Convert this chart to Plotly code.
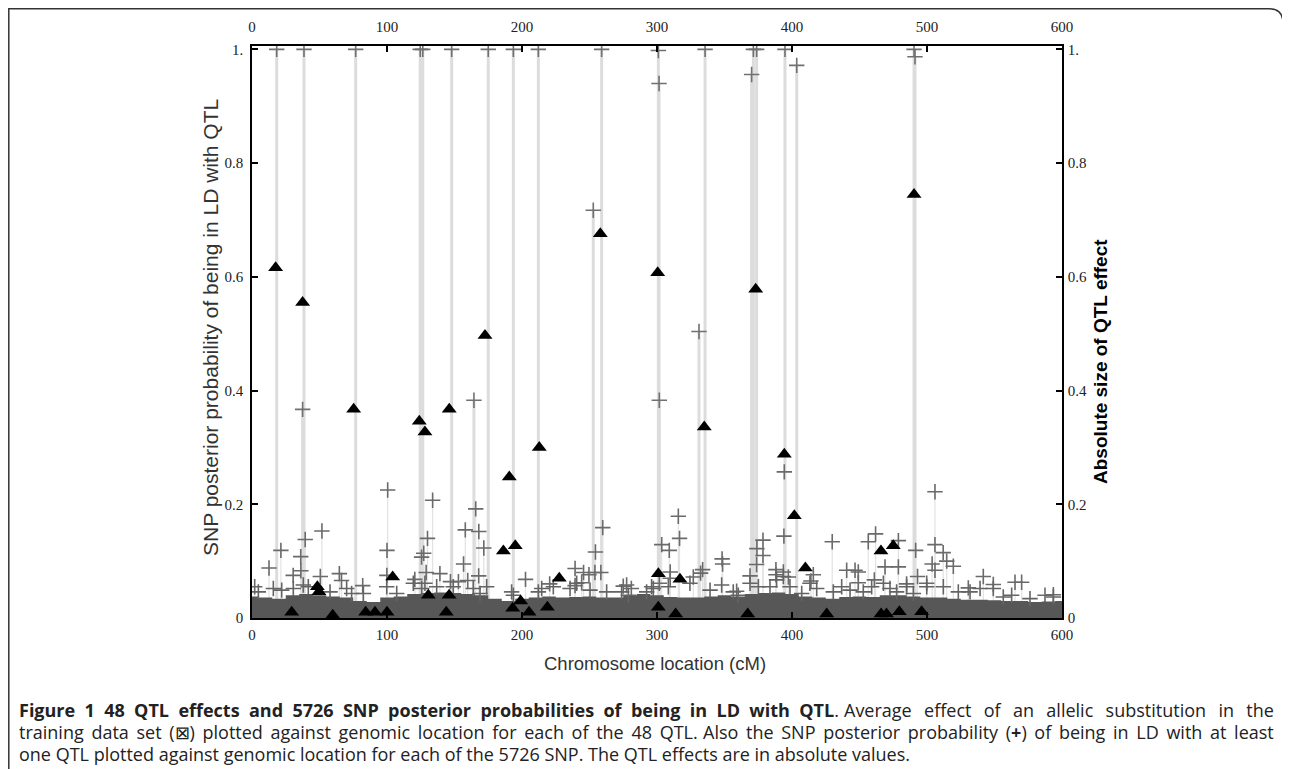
import plotly.graph_objects as go

# SNP posterior probabilities that stand clear of the dense band (cM, prob)
snp_high_pos = [18.3, 38.5, 76.8, 124.6, 126.5, 147.9, 175.0, 193.6, 212.1, 259.0,
                301.0, 301.5, 335.6, 370.1, 371.4, 373.8, 394.8, 403.5, 490.4, 491.1,
                252.8, 331.1, 164.4, 301.7, 37.5]
snp_high_prob = [1.0, 1.0, 1.0, 1.0, 1.0, 1.0, 1.0, 1.0, 1.0, 1.0,
                 0.998, 0.94, 1.0, 0.956, 1.0, 1.0, 1.0, 0.972, 1.0, 0.987,
                 0.717, 0.504, 0.383, 0.383, 0.367]

snp_mid_pos = [394.3, 100.5, 505.9, 133.8, 165.7, 315.8, 259.8, 51.8, 158.0, 168.0,
               461.9, 394.0, 316.7, 130.0, 39.4, 378.5, 478.8, 456.5, 429.8, 303.5,
               505.9, 171.7, 374.0, 21.4, 100.0, 309.1, 491.6, 254.4, 127.2, 512.0,
               36.1, 125.6, 378.5, 348.2, 514.6,
               503.8, 156.7, 348.6, 373.8, 519.5, 12.6, 239.3, 333.8, 388.1, 468.9,
               478.8, 36.2, 505.9, 440.5, 446.7, 245.6, 254.0, 258.4, 393.6, 309.8,
               129.0, 139.2, 64.7, 449.1, 332.3, 30.5, 99.9, 167.9, 249.6, 368.9,
               388.1, 415.8, 50.6, 493.0, 541.7, 326.9, 397.3, 120.6, 202.6, 309.8,
               66.3, 159.8, 461.0, 147.0, 152.9, 565.2, 570.1, 244.2, 301.7, 414.0,
               449.1, 484.9, 499.8, 220.5, 549.1, 82.0, 2.0, 239.3, 275.0, 277.5,
               530.6, 281.0, 192.3, 359.0, 587.4, 593.6]
snp_mid_prob = [0.257, 0.225, 0.222, 0.207, 0.192, 0.179, 0.159, 0.153, 0.155, 0.152,
                0.148, 0.144, 0.140, 0.140, 0.138, 0.137, 0.136, 0.134, 0.134, 0.129,
                0.129, 0.123, 0.122, 0.119, 0.119, 0.119, 0.119, 0.116, 0.114, 0.115,
                0.108, 0.107, 0.110, 0.104, 0.100,
                0.095, 0.095, 0.095, 0.094, 0.091, 0.088, 0.087, 0.085, 0.085, 0.090,
                0.090, 0.083, 0.084, 0.084, 0.084, 0.080, 0.080, 0.080, 0.081, 0.081,
                0.080, 0.078, 0.078, 0.081, 0.079, 0.075, 0.075, 0.074, 0.076, 0.074,
                0.076, 0.076, 0.073, 0.073, 0.073, 0.072, 0.072, 0.068, 0.068, 0.070,
                0.066, 0.066, 0.067, 0.064, 0.064, 0.063, 0.063, 0.062, 0.061, 0.065,
                0.062, 0.060, 0.061, 0.060, 0.059, 0.057, 0.055, 0.057, 0.056, 0.058,
                0.053, 0.052, 0.046, 0.047, 0.040, 0.041]

# crowded SNPs sitting just on top of the band
snp_low_pos = [4.7, 15.8, 22.0, 30.6, 38.0, 41.7, 57.8, 70.1, 73.8, 82.5, 99.8, 107.2,
               119.5, 125.7, 128.1, 136.8, 149.1, 163.9, 168.9, 173.8, 193.6, 212.1,
               214.6, 223.2, 235.6, 240.5, 250.4, 262.7, 273.8, 278.8, 292.3, 296.0,
               297.3, 308.4, 324.4, 339.3, 347.9, 356.5, 360.2, 368.9, 375.1, 383.7,
               388.6, 393.6, 398.5, 407.2, 413.3, 418.3, 430.6, 436.8, 443.0, 452.8,
               459.0, 467.7, 472.6, 477.5, 484.9, 489.9, 499.8, 512.1, 523.2, 531.9,
               539.3, 549.1, 556.5, 562.7, 576.3, 593.6]
snp_low_prob = [0.046, 0.052, 0.049, 0.052, 0.058, 0.055, 0.046, 0.052, 0.043, 0.043,
                0.055, 0.043, 0.061, 0.052, 0.061, 0.055, 0.055, 0.052, 0.043, 0.055,
                0.040, 0.046, 0.052, 0.055, 0.052, 0.061, 0.049, 0.046, 0.046, 0.040,
                0.046, 0.055, 0.052, 0.055, 0.061, 0.049, 0.058, 0.046, 0.040, 0.061,
                0.055, 0.055, 0.067, 0.073, 0.055, 0.043, 0.061, 0.052, 0.046, 0.055,
                0.049, 0.046, 0.055, 0.061, 0.052, 0.046, 0.055, 0.043, 0.055, 0.055,
                0.046, 0.046, 0.052, 0.052, 0.037, 0.040, 0.034, 0.037]

# upper edge of the solid band formed by thousands of near-zero SNPs
band_pos = list(range(0, 601, 10))
band_top = [0.038, 0.036, 0.034, 0.040, 0.042, 0.040, 0.038, 0.036, 0.030, 0.028,
            0.036, 0.038, 0.042, 0.044, 0.045, 0.044, 0.042, 0.040, 0.034, 0.030,
            0.034, 0.036, 0.038, 0.036, 0.037, 0.038, 0.036, 0.036, 0.040, 0.042,
            0.040, 0.037, 0.036, 0.036, 0.038, 0.040, 0.038, 0.042, 0.044, 0.045,
            0.042, 0.038, 0.036, 0.034, 0.037, 0.038, 0.037, 0.040, 0.040, 0.038,
            0.036, 0.036, 0.034, 0.032, 0.032, 0.031, 0.030, 0.030, 0.028, 0.029,
            0.030]

# absolute QTL effects (cM, effect)
qtl_pos = [17.5, 29.4, 37.5, 48.4, 49.6, 59.8, 75.3, 84.2, 91.1, 100.0, 104.2, 123.9,
           128.1, 130.6, 143.9, 146.0, 146.1, 172.6, 186.2, 190.6, 193.1, 195.0, 199.0,
           205.2, 212.8, 218.8, 227.6, 258.0, 300.5, 301.0, 301.0, 313.8, 317.0, 335.0,
           367.2, 373.1, 394.3, 401.7, 409.9, 425.7, 465.9, 466.0, 470.0, 475.0, 479.5,
           490.4, 496.0]
qtl_effect = [0.616, 0.010, 0.555, 0.055, 0.046, 0.005, 0.367, 0.010, 0.010, 0.010, 0.072,
              0.346, 0.327, 0.040, 0.010, 0.040, 0.367, 0.497, 0.118, 0.248, 0.017, 0.127,
              0.030, 0.010, 0.300, 0.019, 0.070, 0.676, 0.607, 0.078, 0.019, 0.007, 0.068,
              0.336, 0.007, 0.578, 0.288, 0.180, 0.088, 0.007, 0.118, 0.007, 0.007, 0.127,
              0.011, 0.745, 0.011]

y_ticks = [0, 0.2, 0.4, 0.6, 0.8, 1.0]
y_labels = ["0", "0.2", "0.4", "0.6", "0.8", "1."]
x_ticks = [0, 100, 200, 300, 400, 500, 600]

# caption lines: left piece, right piece (justified lines), word gaps of each piece
caption_lines = [
    ("<b>Figure 1 48 QTL effects and 5726 SNP posterior probabilities of being in LD with QTL</b>.",
     "Average effect of an allelic substitution in the", ("  ", "  \u2009")),
    ("training data set (⊠) plotted against genomic location for each of the 48 QTL.",
     "Also the SNP posterior probability (<b>+</b>) of being in LD with at least",
     (" \u2009", " \u2009")),
    ("one QTL plotted against genomic location for each of the 5726 SNP. "
     "The QTL effects are in absolute values.", None, (" ", " ")),
]

# page has an 8px body margin, so the figure is drawn 8px in from the window corner
W, H = 1282, 761
L, R, T, B = 252, 1062, 46, 618      # plot box in window pixels
OFF = 8


def px(x):
    return (x - L) / (R - L)


def py(y):
    return (B - y) / (B - T)


def drop_trace(xs, ys, thick, line_color, mark_color, size):
    return go.Scatter(
        x=xs, y=ys, mode="markers", yaxis="y", xaxis="x",
        marker=dict(symbol="cross-thin", size=size,
                    line=dict(width=1.6, color=mark_color)),
        error_y=dict(type="data", symmetric=False, array=[0] * len(ys),
                     arrayminus=ys, width=0, thickness=thick, color=line_color),
        hoverinfo="x+y", showlegend=False,
    )


fig = go.Figure()
fig.add_trace(drop_trace(snp_high_pos, snp_high_prob, 3, "#dcdcdc", "#707070", 11))
fig.add_trace(drop_trace(snp_mid_pos, snp_mid_prob, 1.2, "#e2e2e2", "#6a6a6a", 11))
fig.add_trace(go.Scatter(
    x=band_pos, y=band_top, mode="lines", fill="tozeroy",
    line=dict(width=0, shape="hvh"), fillcolor="#575757",
    hoverinfo="skip", showlegend=False,
))
fig.add_trace(go.Scatter(
    x=snp_low_pos, y=snp_low_prob, mode="markers",
    marker=dict(symbol="cross-thin", size=11, line=dict(width=1.6, color="#646464")),
    hoverinfo="x+y", showlegend=False,
))
fig.add_trace(go.Scatter(
    x=qtl_pos, y=qtl_effect, mode="markers", yaxis="y2",
    marker=dict(symbol="triangle-up", size=13, color="black"),
    hoverinfo="x+y", showlegend=False,
))
# invisible point so the top axis gets drawn
fig.add_trace(go.Scatter(x=[0], y=[0], xaxis="x2", mode="markers",
                         marker=dict(opacity=0), hoverinfo="skip", showlegend=False))

tick_font = dict(family="Liberation Serif", size=15, color="#222")
axis_common = dict(showgrid=False, zeroline=False, showline=True, linecolor="black",
                   linewidth=1.5, ticks="inside", ticklen=6, tickwidth=1.5,
                   tickcolor="black", tickfont=tick_font, automargin=False)

fig.update_layout(
    width=W, height=H,
    paper_bgcolor="white", plot_bgcolor="white",
    margin=dict(l=L - OFF, r=W - (R - OFF), t=T - OFF, b=H - (B - OFF)),
    xaxis=dict(range=[0, 600], tickvals=x_ticks, ticklabelstandoff=2, **axis_common),
    xaxis2=dict(range=[0, 600], tickvals=x_ticks, overlaying="x", side="top",
                anchor="y", ticklabelstandoff=6, **axis_common),
    yaxis=dict(range=[0, 1.006], tickvals=y_ticks, ticktext=y_labels,
               ticklabelstandoff=4, **axis_common),
    yaxis2=dict(range=[0, 1.006], tickvals=y_ticks, ticktext=y_labels, overlaying="y",
                side="right", anchor="x", ticklabelstandoff=1, **axis_common),
    showlegend=False,
)


def note(text, x, y, size, color="#333", angle=0, xanchor="center", family="Liberation Sans"):
    fig.add_annotation(text=text, x=px(x), y=py(y), xref="paper", yref="paper",
                       xanchor=xanchor, yanchor="middle", textangle=angle,
                       showarrow=False, font=dict(family=family, size=size, color=color))


# axis titles
note("SNP posterior probability of being in LD with QTL", 210, 328, 21, angle=-90)
note("<b>Absolute size of QTL effect</b>", 1100, 362, 19, color="black", angle=-90)
note("Chromosome location (cM)", 655, 663, 18.5)

# frame around the figure, rounded at the top right
x0, x1, y0, y1 = px(8.8), px(1283), py(8.8), py(800)
rr = 14 / (R - L)
ry = 14 / (B - T)
fig.add_shape(type="path", xref="paper", yref="paper",
              path=f"M {x0},{y1} L {x0},{y0} L {x1 - rr},{y0} Q {x1},{y0} {x1},{y0 - ry} L {x1},{y1}",
              line=dict(color="#333", width=1.5))

# caption: justified lines are split into a left piece and a right piece
for i, (left, right, (gap_l, gap_r)) in enumerate(caption_lines):
    yy = 710 + i * 22
    note(left.replace(" ", gap_l), 17, yy, 18, color="#222", xanchor="left", family="Open Sans")
    if right:
        note(right.replace(" ", gap_r), 1276, yy, 18, color="#222", xanchor="right",
             family="Open Sans")

fig.write_html("out.html")
